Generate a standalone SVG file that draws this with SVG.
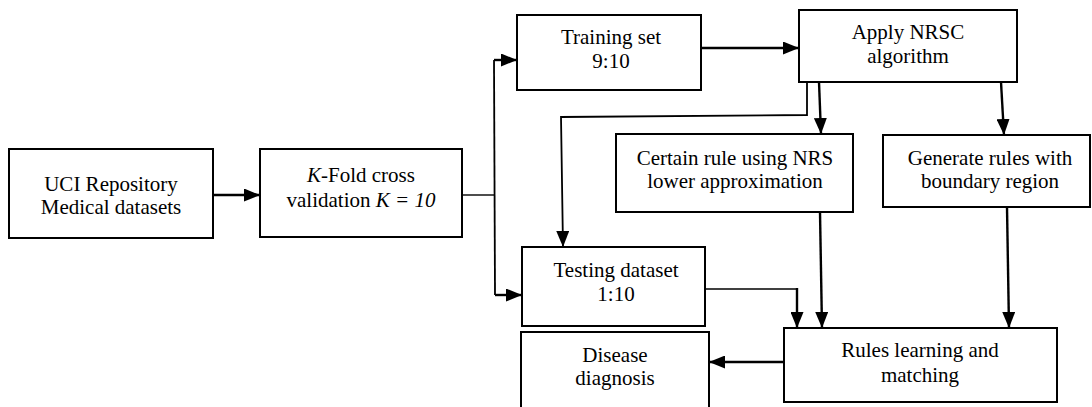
<svg xmlns="http://www.w3.org/2000/svg" width="1092" height="407" viewBox="0 0 1092 407">
<style>
.box{fill:#fff;stroke:#000;stroke-width:2}
.lbl text{font-size:21px;fill:#000;text-anchor:middle}
.c{fill:none;stroke:#000;stroke-width:2.4}
.t{fill:none;stroke:#000;stroke-width:1.4}
</style>
<defs>
<marker id="ah" markerUnits="userSpaceOnUse" markerWidth="16" markerHeight="13" viewBox="0 0 16 13" refX="16" refY="6.5" orient="auto">
<path d="M0,0 L16,6.5 L0,13 z" fill="#000"/>
</marker>
</defs>
<rect width="1092" height="407" fill="#fff"/>
<g class="lbl" font-family="Liberation Serif, Tinos, Times New Roman, DejaVu Serif, serif">
<g id="uci"><rect class="box" x="9" y="149" width="204" height="89"/><text x="111" y="191">UCI Repository</text><text x="111" y="214">Medical datasets</text></g>
<g id="kfold"><rect class="box" x="260" y="149" width="202" height="88"/><text x="361" y="182"><tspan font-style="italic">K</tspan>-Fold cross</text><text x="361" y="207">validation <tspan font-style="italic">K = 10</tspan></text></g>
<g id="training"><rect class="box" x="517" y="15" width="184" height="75"/><text x="611" y="44">Training set</text><text x="611" y="68">9:10</text></g>
<g id="nrsc"><rect class="box" x="799" y="10" width="218" height="72"/><text x="908" y="39">Apply NRSC</text><text x="908" y="63">algorithm</text></g>
<g id="certain"><rect class="box" x="616" y="134" width="237" height="78"/><text x="735" y="165">Certain rule using NRS</text><text x="735" y="188">lower approximation</text></g>
<g id="generate"><rect class="box" x="883" y="135" width="207" height="72"/><text x="990" y="165">Generate rules with</text><text x="990" y="188">boundary region</text></g>
<g id="testing"><rect class="box" x="522" y="247" width="183" height="79"/><text x="616" y="277">Testing dataset</text><text x="616" y="301">1:10</text></g>
<g id="disease"><rect class="box" x="521" y="332" width="188" height="80"/><text x="615" y="362">Disease</text><text x="615" y="385">diagnosis</text></g>
<g id="rules"><rect class="box" x="784" y="328" width="273" height="74"/><text x="920" y="357">Rules learning and</text><text x="920" y="382">matching</text></g>
</g>
<g id="connectors">
<path class="c" d="M213,195 L260,195" marker-end="url(#ah)"/>
<path class="t" d="M462,195 L494,195"/>
<path class="t" style="stroke-width:1.8" d="M494,60 L495,295"/>
<path class="c" d="M494,60 L517,60" marker-end="url(#ah)"/>
<path class="c" d="M495,295 L522,295" marker-end="url(#ah)"/>
<path class="c" d="M701,48 L799,48" marker-end="url(#ah)"/>
<path class="t" style="stroke-width:1.8" d="M807,82 L807,115 L561,117 L563,247" marker-end="url(#ah)"/>
<path class="c" d="M819,82 L821,134" marker-end="url(#ah)"/>
<path class="c" d="M1001,82 L1004,135" marker-end="url(#ah)"/>
<path class="c" d="M820,212 L822,328" marker-end="url(#ah)"/>
<path class="c" d="M1007,207 L1009,328" marker-end="url(#ah)"/>
<path class="t" d="M705,289 L797,289"/>
<path class="c" d="M797,288 L797,328" marker-end="url(#ah)"/>
<path class="c" d="M785,362 L709,362" marker-end="url(#ah)"/>
</g>
</svg>
